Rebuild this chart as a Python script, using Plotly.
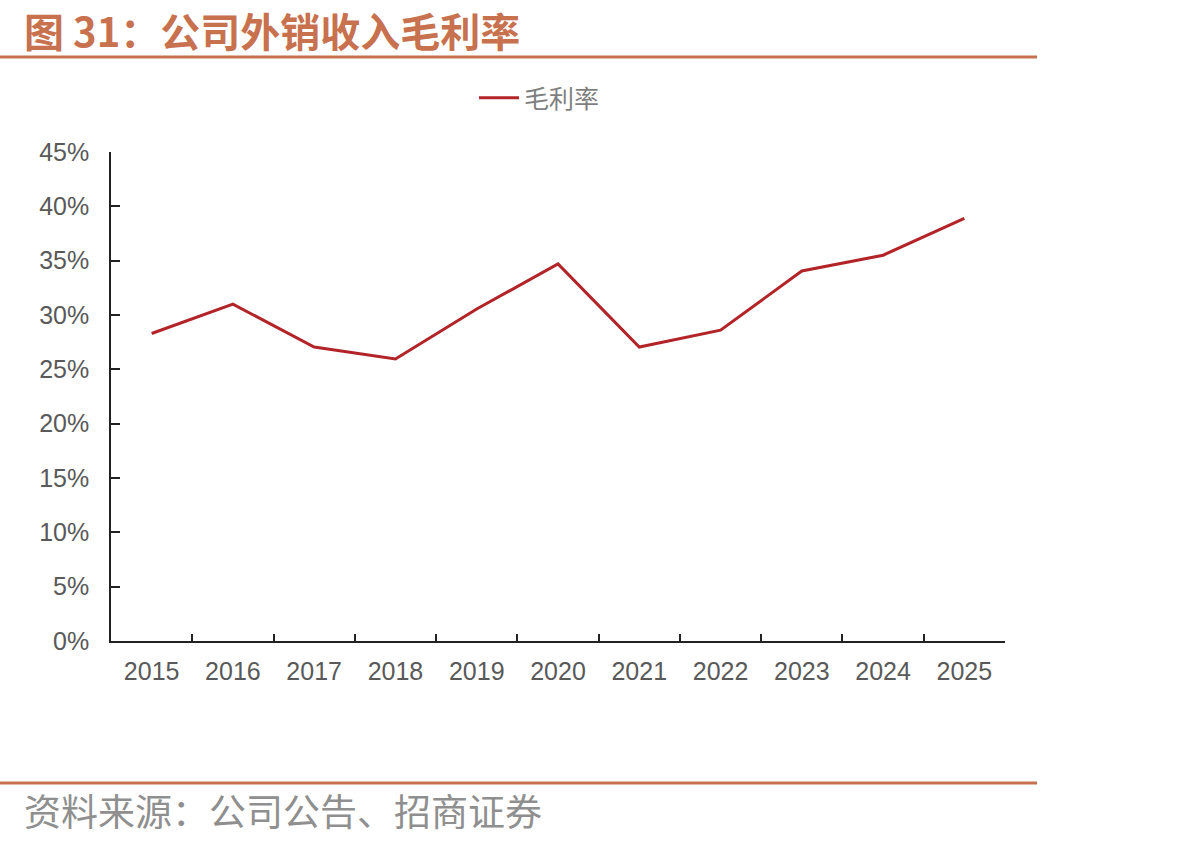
import plotly.graph_objects as go

years = ["2015", "2016", "2017", "2018", "2019", "2020", "2021", "2022", "2023", "2024", "2025"]
gross_margin = [28.3, 31.0, 27.05, 25.95, 30.55, 34.7, 27.05, 28.6, 34.05, 35.5, 38.9]
series_name = "毛利率"
title_text = "图 31：公司外销收入毛利率"
source_text = "资料来源：公司公告、招商证券"

W, H = 1192, 843
L, R, T, B = 111, 1005, 152, 641

def px(x):
    return (x - L) / (R - L)

def py(y):
    return (B - y) / (B - T)

ACCENT = "#C8714F"
CJK = "Noto Sans CJK SC"

fig = go.Figure()
fig.add_trace(go.Scatter(
    x=years, y=gross_margin, mode="lines", name=series_name,
    line=dict(color="#B22428", width=3),
))

fig.update_layout(
    width=W, height=H,
    margin=dict(l=L, r=W - R, t=T, b=H - B, pad=0),
    paper_bgcolor="white", plot_bgcolor="white",
    showlegend=True,
    legend=dict(
        orientation="h", x=px(474), xanchor="left", y=py(98), yanchor="middle",
        font=dict(family=CJK, size=25, color="#7f7f7f"),
        bgcolor="rgba(0,0,0,0)", itemwidth=40,
    ),
    xaxis=dict(
        type="category", range=[-0.5, len(years) - 0.5],
        showline=True, linecolor="#222222", linewidth=1.5,
        ticks="inside", tickson="boundaries", ticklen=7, tickcolor="#222222", tickwidth=1.5,
        tickfont=dict(family="Liberation Sans", size=25, color="#595959"),
        ticklabelstandoff=7,
        showgrid=False, zeroline=False, fixedrange=True,
    ),
    yaxis=dict(
        range=[0, 45], dtick=5, ticksuffix="%",
        showline=True, linecolor="#222222", linewidth=1.5,
        ticks="inside", ticklen=9, tickcolor="#222222", tickwidth=1.5,
        tickfont=dict(family="Liberation Sans", size=25, color="#595959"),
        ticklabelstandoff=15,
        showgrid=False, zeroline=False, fixedrange=True,
    ),
)

# header and footer rules
fig.add_shape(type="line", xref="paper", yref="paper",
              x0=px(0), x1=px(1037), y0=py(57), y1=py(57),
              line=dict(color=ACCENT, width=3))
fig.add_shape(type="line", xref="paper", yref="paper",
              x0=px(0), x1=px(1037), y0=py(783), y1=py(783),
              line=dict(color=ACCENT, width=3))

fig.add_annotation(text="<b>" + title_text + "</b>", xref="paper", yref="paper",
                   x=px(22), y=py(30), xanchor="left", yanchor="middle",
                   showarrow=False, font=dict(family=CJK, size=40, color=ACCENT))
fig.add_annotation(text=source_text, xref="paper", yref="paper",
                   x=px(22), y=py(810), xanchor="left", yanchor="middle",
                   showarrow=False, font=dict(family=CJK, size=37, color="#8f8f8f"))

fig.write_html("out.html", config={"displayModeBar": False})
